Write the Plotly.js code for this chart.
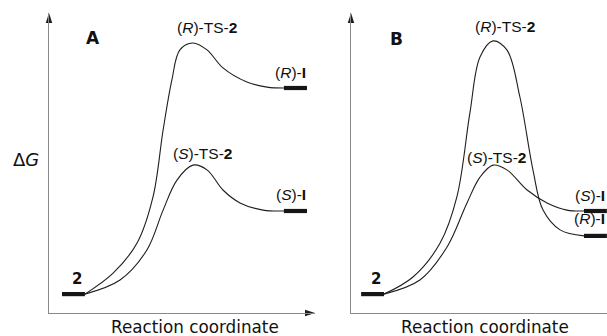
<!DOCTYPE html>
<html>
<head>
<meta charset="utf-8">
<script src="https://cdn.plot.ly/plotly-3.0.1.min.js"></script>
<style>html,body{margin:0;padding:0;background:#fff;}#chart{width:607px;height:336px;}</style>
</head>
<body>
<div id="chart"></div>
<script>
// ---- Data (reaction coordinate, free energy in arbitrary units) ----
// Panel A
const A_R_x = [1.35, 2.41, 3.31, 3.91, 4.29, 4.62, 4.92, 5.41, 5.94, 6.54, 7.44, 8.20, 8.83];
const A_R_y = [0.63, 1.33, 2.33, 3.87, 6.10, 7.77, 8.77, 9.00, 8.77, 8.17, 7.70, 7.53, 7.50];
const A_S_x = [1.35, 2.67, 3.68, 4.29, 4.81, 5.41, 5.94, 6.54, 7.18, 8.05, 8.83];
const A_S_y = [0.63, 1.10, 2.10, 3.43, 4.43, 4.93, 4.77, 4.10, 3.67, 3.43, 3.40];
// Panel B
const B_R_x = [1.24, 2.33, 3.35, 3.98, 4.47, 4.85, 5.34, 5.86, 6.35, 6.84, 7.22, 7.86, 8.76];
const B_R_y = [0.63, 1.20, 2.33, 3.87, 6.67, 8.53, 9.07, 8.77, 7.20, 4.77, 3.43, 2.77, 2.57];
const B_S_x = [1.24, 2.59, 3.61, 4.36, 4.85, 5.34, 5.86, 6.62, 7.37, 8.12, 8.76];
const B_S_y = [0.63, 1.10, 2.20, 3.67, 4.53, 4.93, 4.77, 4.10, 3.67, 3.43, 3.40];
// Energy levels (bars): [start, end] of reaction coordinate and level
const levelKeys = ['2', 'RI', 'SI'];
const A_levelSpan = [[0.49, 1.35], [8.83, 9.70], [8.83, 9.70]];
const A_levelY = [0.63, 7.50, 3.40];
const B_levelSpan = [[0.38, 1.24], [8.76, 9.62], [8.76, 9.62]];
const B_levelY = [0.63, 2.57, 3.40];
// Text
const panelLetters = ['A', 'B'];
const xTitle = 'Reaction coordinate';
const yTitle = '\u0394<i>G</i>';
const tsLabels = {R: '(<i>R</i>)-TS-<b>2</b>', S: '(<i>S</i>)-TS-<b>2</b>'};
const intLabels = {R: '(<i>R</i>)-<b>I</b>', S: '(<i>S</i>)-<b>I</b>'};
const startLabel = '<b>2</b>';

// ---- Axes ranges ----
const A_xRange = [0, 10];
const B_xRange = [0, 256 / 26.6];
const yRange = [0, 10];

// ---- Build ----
const FONT = 'DejaVu Sans, Liberation Sans, Arial, sans-serif';
const LFONT = 'Liberation Sans, Arial, sans-serif';
const curveStyle = {color: '#1e1e1e', width: 1.1, shape: 'spline', smoothing: 1};
const barStyle = {color: '#161616', width: 4.2};

function curve(x, y, xa, ya) {
  return {x: x, y: y, xaxis: xa, yaxis: ya, mode: 'lines', line: curveStyle, hoverinfo: 'skip'};
}
function bars(spans, ys, xa, ya) {
  return spans.map((s, i) => ({x: s, y: [ys[i], ys[i]], xaxis: xa, yaxis: ya,
    mode: 'lines', line: barStyle, hoverinfo: 'skip'}));
}
// arrowhead marker: the tip of the 'arrow' symbol sits on the point
function axisArrow(x, y, angle, xa, ya) {
  return {x: [x], y: [y], xaxis: xa, yaxis: ya, mode: 'markers', cliponaxis: false, hoverinfo: 'skip',
    marker: {symbol: 'arrow', angle: angle, size: 10.5, color: '#1e1e1e', line: {width: 0}}};
}
const traces = [
  curve(A_R_x, A_R_y, 'x', 'y'), curve(A_S_x, A_S_y, 'x', 'y'),
  ...bars(A_levelSpan, A_levelY, 'x', 'y'),
  curve(B_R_x, B_R_y, 'x2', 'y2'), curve(B_S_x, B_S_y, 'x2', 'y2'),
  ...bars(B_levelSpan, B_levelY, 'x2', 'y2'),
  axisArrow(A_xRange[1], yRange[0], 90, 'x', 'y'),
  axisArrow(A_xRange[0], yRange[1], 0, 'x', 'y'),
  axisArrow(B_xRange[0], yRange[1], 0, 'x2', 'y2')
];

function peak(x, y) { let i = y.indexOf(Math.max(...y)); return [x[i], y[i]]; }
const lblFont = {family: LFONT, size: 15.5, color: '#111'};
function ann(text, xref, yref, x, y, opts) {
  return Object.assign({text: text, xref: xref, yref: yref, x: x, y: y, showarrow: false,
    font: lblFont, xanchor: 'center', yanchor: 'middle'}, opts || {});
}
const pAR = peak(A_R_x, A_R_y), pAS = peak(A_S_x, A_S_y);
const pBR = peak(B_R_x, B_R_y), pBS = peak(B_S_x, B_S_y);
const mid = s => (s[0] + s[1]) / 2;
const titleFont = {family: FONT, size: 16.8, color: '#111'};

const annotations = [
  // Panel A
  ann(tsLabels.R, 'x', 'y', pAR[0], pAR[1], {xshift: 14, yshift: 15.5}),
  ann(tsLabels.S, 'x', 'y', pAS[0], pAS[1], {xshift: 10, yshift: 12}),
  ann(intLabels.R, 'x', 'y', A_levelSpan[1][1], A_levelY[1], {xanchor: 'right', xshift: 1, yshift: 15.5}),
  ann(intLabels.S, 'x', 'y', A_levelSpan[2][1], A_levelY[2], {xanchor: 'right', xshift: 1, yshift: 17}),
  ann(startLabel, 'x', 'y', mid(A_levelSpan[0]), A_levelY[0], {xshift: 3.5, yshift: 15, font: {family: FONT, size: 15, color: '#111'}}),
  ann('<b>' + panelLetters[0] + '</b>', 'x domain', 'y domain', 0.167, 0.915, {font: {family: FONT, size: 17, color: '#111'}}),
  ann(yTitle, 'x domain', 'y domain', -0.0865, 0.513, {font: {family: FONT, size: 18, color: '#111'}}),
  ann(xTitle, 'x domain', 'y domain', 0.55, -0.047, {font: titleFont}),
  // Panel B
  ann(tsLabels.R, 'x2', 'y2', pBR[0], pBR[1], {xshift: 11.5, yshift: 14}),
  ann(tsLabels.S, 'x2', 'y2', pBS[0], pBS[1], {xshift: 3.5, yshift: 8}),
  ann(intLabels.R, 'x2', 'y2', B_levelSpan[1][1], B_levelY[1], {xanchor: 'right', xshift: 0, yshift: 17}),
  ann(intLabels.S, 'x2', 'y2', B_levelSpan[2][1], B_levelY[2], {xanchor: 'right', xshift: 0, yshift: 16}),
  ann(startLabel, 'x2', 'y2', mid(B_levelSpan[0]), B_levelY[0], {xshift: 3.5, yshift: 15, font: {family: FONT, size: 15, color: '#111'}}),
  ann('<b>' + panelLetters[1] + '</b>', 'x2 domain', 'y2 domain', 0.176, 0.913, {font: {family: FONT, size: 17, color: '#111'}}),
  ann(xTitle, 'x2 domain', 'y2 domain', 0.523, -0.047, {font: titleFont})
];

const axBase = {showgrid: false, zeroline: false, showticklabels: false, ticks: '',
  showline: true, linecolor: '#8a8a8a', linewidth: 1.4, fixedrange: true};
const yDom = [23 / 336, 323 / 336];
const layout = {
  width: 607, height: 336,
  margin: {l: 0, r: 0, t: 0, b: 0, pad: 0},
  paper_bgcolor: '#fff', plot_bgcolor: 'rgba(0,0,0,0)',
  showlegend: false, hovermode: false,
  xaxis: Object.assign({}, axBase, {domain: [49 / 607, 315 / 607], range: A_xRange, anchor: 'y'}),
  yaxis: Object.assign({}, axBase, {domain: yDom, range: yRange, anchor: 'x'}),
  xaxis2: Object.assign({}, axBase, {domain: [351 / 607, 1], range: B_xRange, anchor: 'y2'}),
  yaxis2: Object.assign({}, axBase, {domain: yDom, range: yRange, anchor: 'x2'}),
  annotations: annotations
};
Plotly.newPlot('chart', traces, layout, {staticPlot: true, displayModeBar: false});
</script>
</body>
</html>
